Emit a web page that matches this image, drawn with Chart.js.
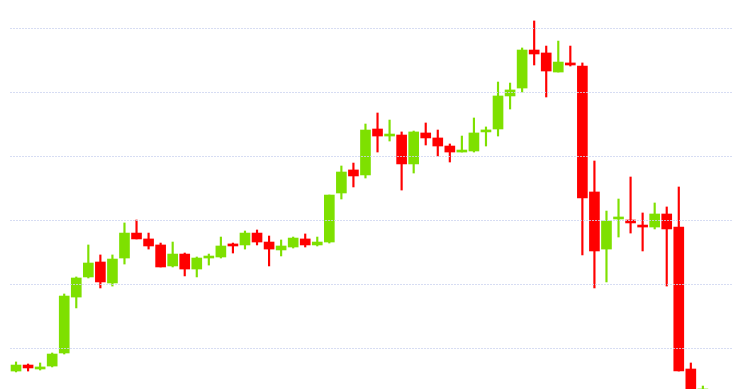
<!DOCTYPE html>
<html>
<head>
<meta charset="utf-8">
<script src="https://cdn.jsdelivr.net/npm/chart.js@4/dist/chart.umd.min.js"></script>
<style>
  html, body { margin: 0; padding: 0; background: #fff; }
  #wrap { width: 745px; height: 389px; }
</style>
</head>
<body>
<div id="wrap"><canvas id="chart"></canvas></div>
<script>
// daily candles (last two slots fall below the visible range)
const labels = Array.from({length: 60}, (_, i) => 'D' + (i + 1))

const opens  = [8820, 8867, 8836, 8859, 8961, 9398, 9555, 9672, 9508, 9703,
                9898, 9852, 9805, 9641, 9734, 9617, 9703, 9711, 9813, 9805,
                9898, 9828, 9766, 9789, 9852, 9805, 9828, 10211, 10391, 10352,
                10711, 10656, 10664, 10438, 10680, 10641, 10578, 10531, 10539, 10688,
                10711, 10969, 11031, 11328, 11305, 11156, 11227, 11203, 10219, 9773,
                10008, 10000, 9953, 9945, 10047, 9945, 8836, 8560]
const highs  = [8891, 8875, 8883, 8961, 9422, 9555, 9805, 9727, 9727, 9977,
                10000, 9898, 9820, 9828, 9742, 9711, 9734, 9867, 9820, 9914,
                9922, 9875, 9844, 9867, 9891, 9867, 10195, 10422, 10445, 10750,
                10836, 10781, 10688, 10695, 10758, 10703, 10594, 10656, 10797, 10727,
                11078, 11070, 11344, 11555, 11359, 11398, 11359, 11227, 10461, 10070,
                10164, 10336, 10055, 10133, 10102, 10258, 8883, 8703]
const lows   = [8813, 8820, 8828, 8852, 8953, 9313, 9547, 9469, 9484, 9656,
                9852, 9773, 9633, 9633, 9563, 9555, 9648, 9703, 9742, 9773,
                9805, 9641, 9719, 9781, 9789, 9797, 9820, 10164, 10258, 10328,
                10531, 10617, 10234, 10367, 10586, 10500, 10453, 10531, 10531, 10578,
                10656, 10867, 11000, 11211, 10961, 11156, 11203, 9727, 9469, 9516,
                9867, 9898, 9758, 9930, 9484, 8820, 8600, 8500]
const closes = [8867, 8844, 8852, 8953, 9406, 9547, 9664, 9516, 9695, 9898,
                9852, 9797, 9633, 9734, 9617, 9703, 9711, 9797, 9797, 9898,
                9828, 9773, 9797, 9859, 9805, 9828, 10195, 10375, 10344, 10703,
                10656, 10664, 10438, 10688, 10641, 10578, 10531, 10539, 10680, 10703,
                10969, 11016, 11328, 11297, 11164, 11234, 11211, 10172, 9758, 9992,
                10016, 9977, 9945, 10047, 9930, 8820, 8650, 8680]

const gridTicks = [9000, 9500, 10000, 10500, 11000, 11500]

const up = '#7ee000'
const down = '#ff0000'
const colors = opens.map((o, i) => closes[i] >= o ? up : down)

const ctx = document.getElementById('chart').getContext('2d')
new Chart(ctx, {
  type: 'bar',
  data: {
    labels: labels,
    datasets: [
      {
        label: 'wick',
        data: lows.map((l, i) => [l, highs[i]]),
        backgroundColor: colors,
        barThickness: 1.5,
        grouped: false,
        order: 2
      },
      {
        label: 'body',
        data: opens.map((o, i) => [o, closes[i]]),
        backgroundColor: colors,
        barThickness: 10,
        minBarLength: 2,
        grouped: false,
        order: 1
      }
    ]
  },
  options: {
    responsive: true,
    maintainAspectRatio: false,
    animation: false,
    layout: { padding: { left: 10, right: 12, top: 0, bottom: 0 } },
    plugins: { legend: { display: false }, tooltip: { enabled: false } },
    scales: {
      x: { display: false },
      y: {
        min: 8679.7,
        max: 11718.75,
        afterBuildTicks: (axis) => { axis.ticks = gridTicks.map(v => ({ value: v })) },
        ticks: { display: false },
        border: { display: false, dash: [2, 1] },
        grid: {
          color: 'rgba(205,212,240,0.8)',
          lineWidth: 1,
          drawTicks: false,
          z: 1
        }
      }
    }
  }
})
</script>
</body>
</html>
